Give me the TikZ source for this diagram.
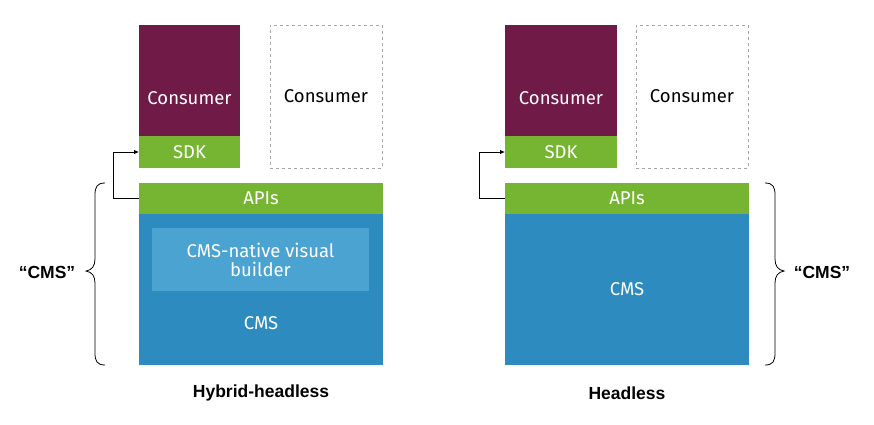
\documentclass[tikz,border=0pt]{standalone}
\usepackage{fontspec}
\setmainfont{Fira Sans}
\newfontfamily\labelfont{Liberation Sans}
\usetikzlibrary{arrows.meta,positioning}
\definecolor{maroon}{HTML}{701A47}
\definecolor{sdkgreen}{HTML}{76B531}
\definecolor{cmsblue}{HTML}{2E8BC0}
\definecolor{vbblue}{HTML}{4BA3D2}
\tikzset{
  boxfont/.style={font=\fontsize{18.5}{22}\selectfont},
  box/.style={draw=none, inner sep=0pt, outer sep=0pt, anchor=north west, text=white, boxfont, align=center},
  consumer/.style={box, fill=maroon},
  green/.style={box, fill=sdkgreen},
  cms/.style={box, fill=cmsblue},
  dashbox/.style={box, draw=gray!70, dashed, text=black},
  txt/.style={boxfont, inner sep=0pt, align=center},
  lbl/.style={font=\labelfont\bfseries\fontsize{17.5}{20}\selectfont},
  conn/.style={draw=black, line width=0.8pt, -{Latex[length=5pt,width=4.5pt]}},
  brace/.style={draw=black, line width=0.8pt}
}
\begin{document}
\begin{tikzpicture}[x=1pt,y=-1pt]
\useasboundingbox (0,0) rectangle (874,424);
% Left panel
\node[consumer, minimum width=101pt, minimum height=111pt] (lcons) at (139,25) {};
\node[txt, text=white] (lconst) at (189.5,98) {Consumer};
\node[green, minimum width=101pt, minimum height=32pt] (lsdk) at (139,136) {SDK};
\node[dashbox, minimum width=112pt, minimum height=143pt] (ldash) at (270,25) {Consumer};
\node[green, minimum width=244pt, minimum height=31pt] (lapi) at (139,183) {APIs};
\node[cms, minimum width=244pt, minimum height=151pt] (lcms) at (139,214) {};
\node[box, fill=vbblue, minimum width=217pt, minimum height=63pt] (lvb) at (152,228) {CMS-native visual\\[-3pt]builder};
\node[txt, text=white] (lcmst) at (261,323) {CMS};
\draw[conn] (lapi.west) -- ++(-26,0) |- (lsdk.west);
\draw[brace] (105,183) .. controls (97,183) and (95,187) .. (95,195) -- (95,259) .. controls (95,266) and (92,270) .. (86,271) .. controls (92,272) and (95,276) .. (95,283) -- (95,353) .. controls (95,361) and (97,365) .. (105,365);
\node[lbl] (lq) at (47,272) {“CMS”};
\node[lbl] (lt) at (261,393) {Hybrid-headless};
% Right panel
\node[consumer, minimum width=112pt, minimum height=111pt] (rcons) at (505,25) {};
\node[txt, text=white] (rconst) at (561,98) {Consumer};
\node[green, minimum width=112pt, minimum height=32pt] (rsdk) at (505,136) {SDK};
\node[dashbox, minimum width=112pt, minimum height=143pt] (rdash) at (636,25) {Consumer};
\node[green, minimum width=244pt, minimum height=31pt] (rapi) at (505,183) {APIs};
\node[cms, minimum width=244pt, minimum height=151pt] (rcms) at (505,214) {CMS};
\draw[conn] (rapi.west) -- ++(-26,0) |- (rsdk.west);
\draw[brace] (765,183) .. controls (773,183) and (775,187) .. (775,195) -- (775,259) .. controls (775,266) and (778,270) .. (784,271) .. controls (778,272) and (775,276) .. (775,283) -- (775,353) .. controls (775,361) and (773,365) .. (765,365);
\node[lbl] (rq) at (822,272) {“CMS”};
\node[lbl] (rt) at (627,393) {Headless};
\end{tikzpicture}
\end{document}
